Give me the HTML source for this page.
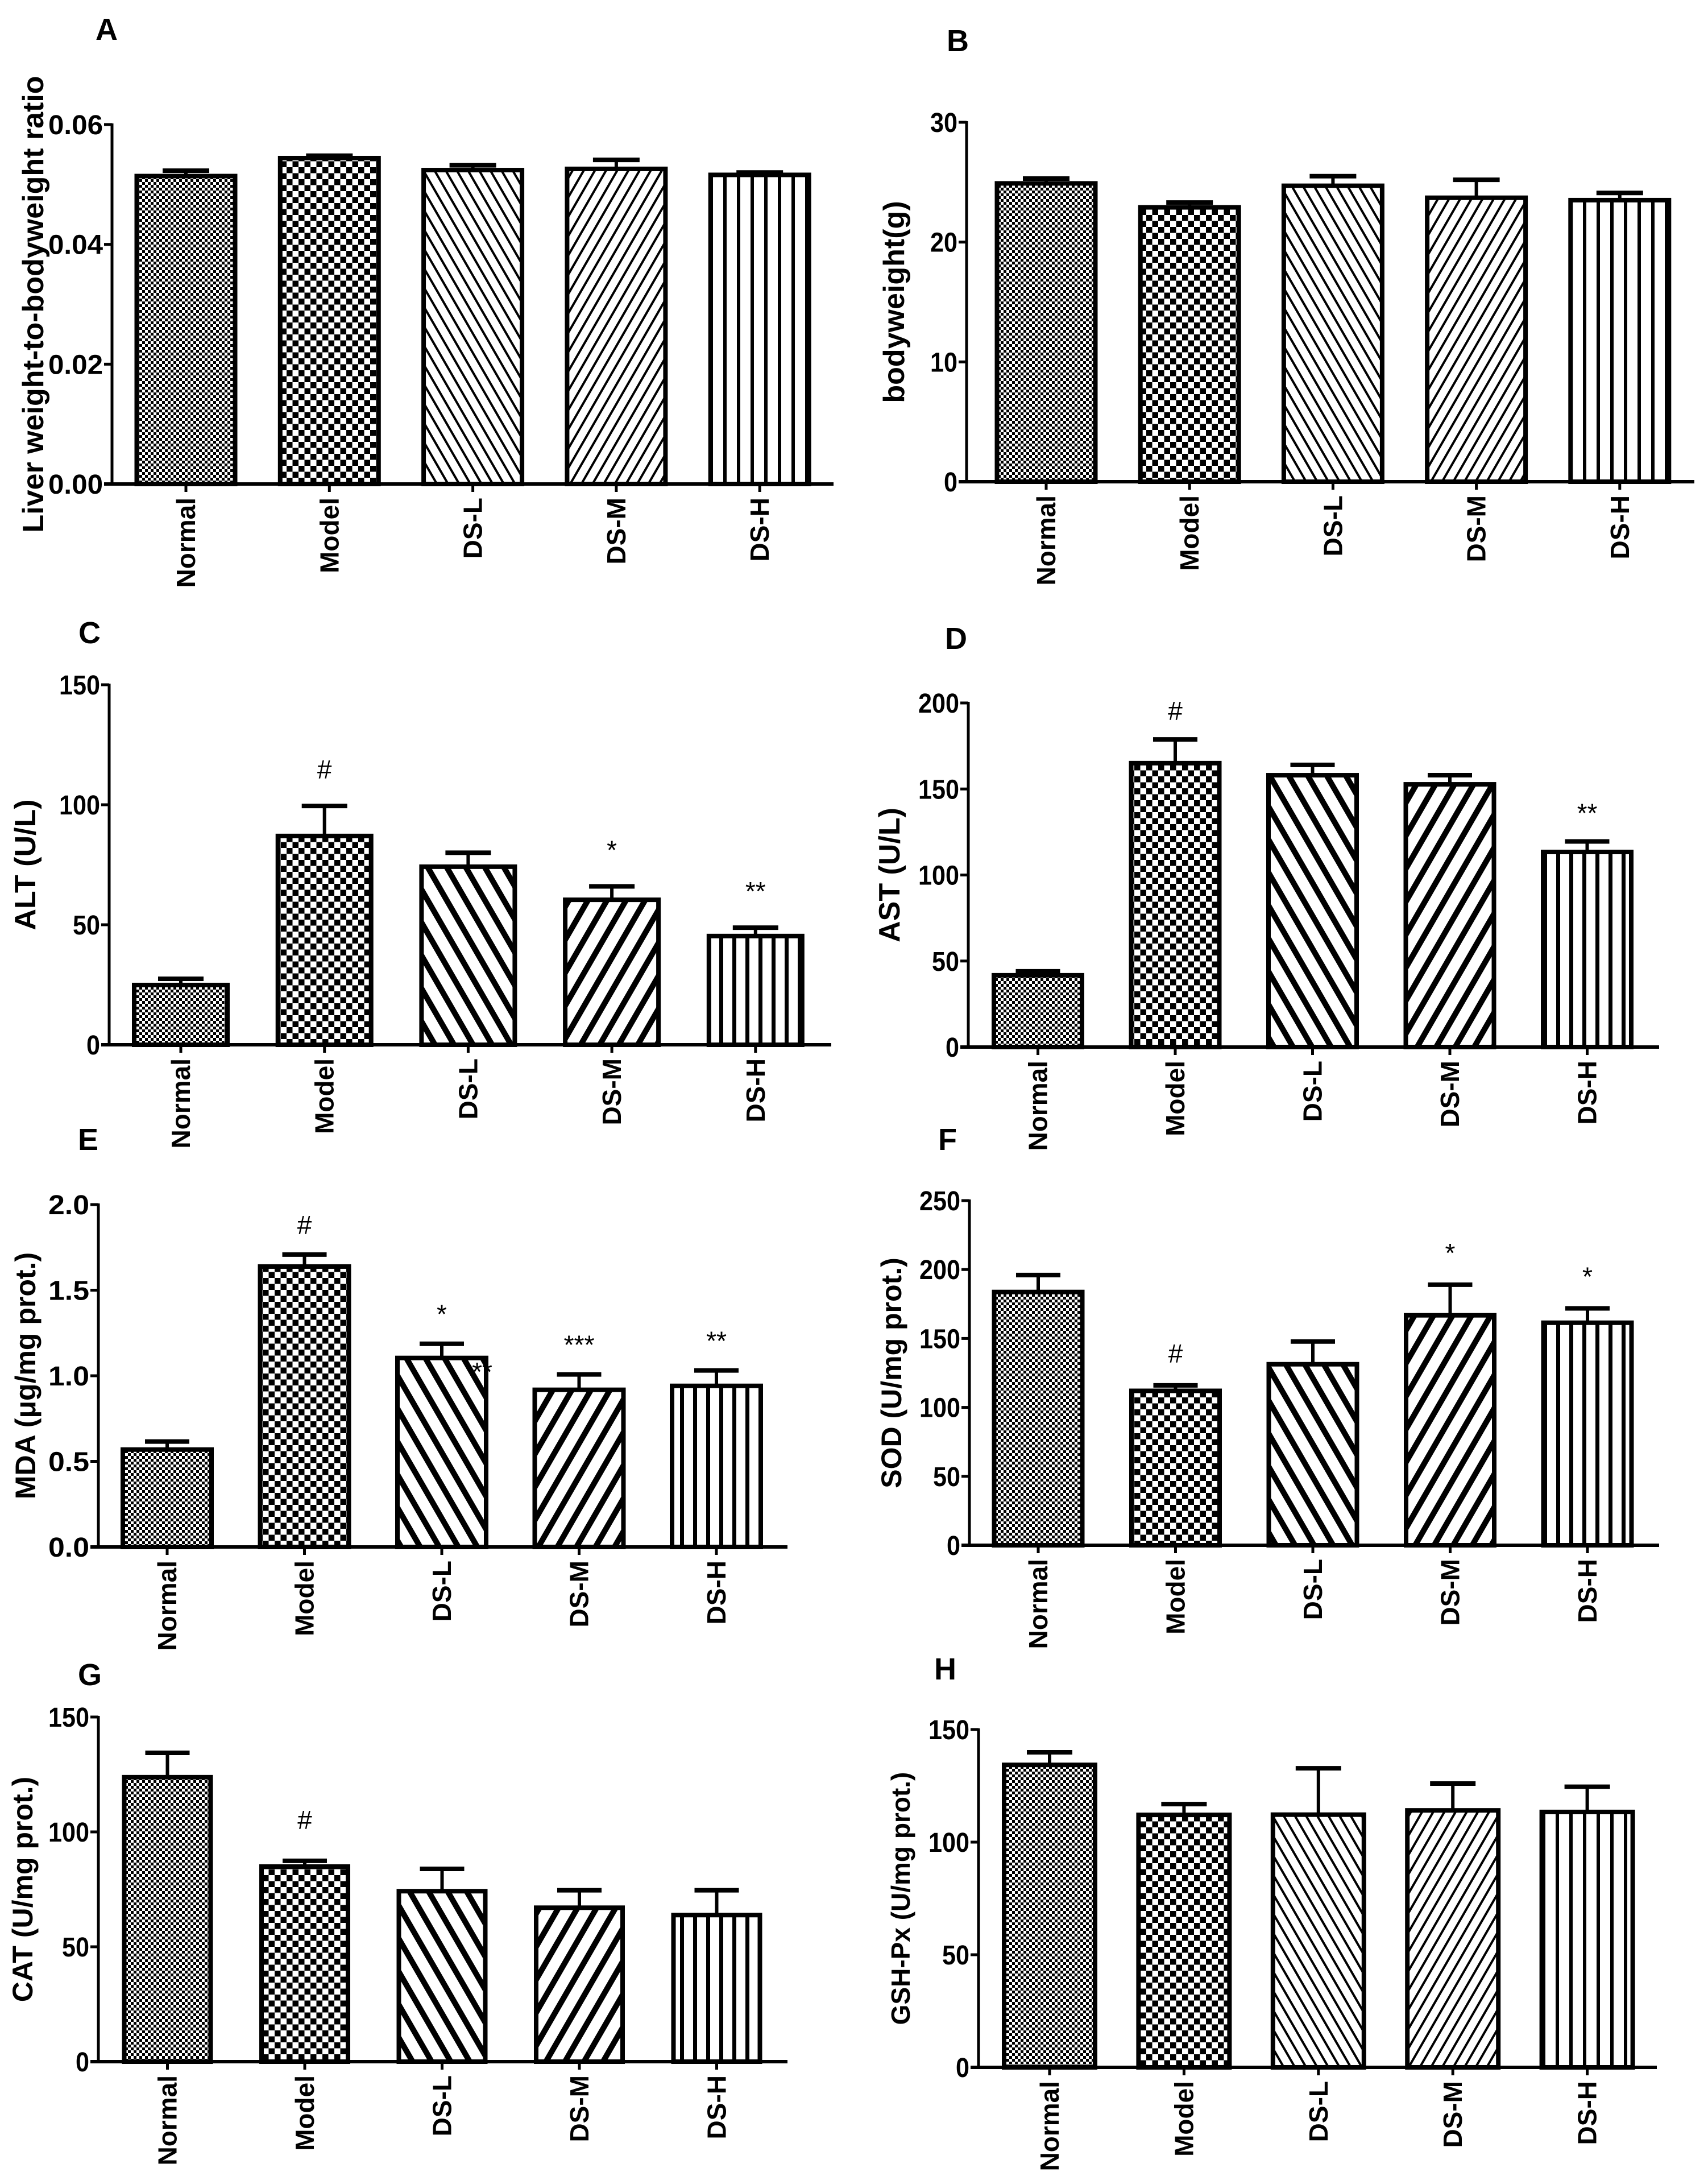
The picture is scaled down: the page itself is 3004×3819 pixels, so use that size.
<!DOCTYPE html>
<html><head><meta charset="utf-8">
<style>
html,body{margin:0;padding:0;background:#fff;}
svg{display:block;}
text{font-family:"Liberation Sans",Arial,sans-serif;}
</style></head>
<body>
<svg id="fig" xmlns="http://www.w3.org/2000/svg" width="3004" height="3819" viewBox="0 0 3004 3819">
<defs>
  <pattern id="pNormal" patternUnits="userSpaceOnUse" width="10" height="10">
    <rect width="10" height="10" fill="#fff"/><rect width="5" height="5" fill="#000"/><rect x="5" y="5" width="5" height="5" fill="#000"/>
  </pattern>
  <pattern id="pModel" patternUnits="userSpaceOnUse" width="21" height="21">
    <rect width="21" height="21" fill="#fff"/><rect width="10.5" height="10.5" fill="#000"/><rect x="10.5" y="10.5" width="10.5" height="10.5" fill="#000"/>
  </pattern>
  <pattern id="pLthin" patternUnits="userSpaceOnUse" width="17" height="40" patternTransform="rotate(-30)">
    <rect width="17" height="40" fill="#fff"/><rect width="4" height="40" fill="#000"/>
  </pattern>
  <pattern id="pMthin" patternUnits="userSpaceOnUse" width="17" height="40" patternTransform="rotate(30)">
    <rect width="17" height="40" fill="#fff"/><rect width="4" height="40" fill="#000"/>
  </pattern>
  <pattern id="pHthin" patternUnits="userSpaceOnUse" width="24" height="40">
    <rect width="24" height="40" fill="#fff"/><rect width="6" height="40" fill="#000"/>
  </pattern>
  <pattern id="pLthick" patternUnits="userSpaceOnUse" width="29" height="40" patternTransform="rotate(-30)">
    <rect width="29" height="40" fill="#fff"/><rect width="10" height="40" fill="#000"/>
  </pattern>
  <pattern id="pMthick" patternUnits="userSpaceOnUse" width="29" height="40" patternTransform="rotate(30)">
    <rect width="29" height="40" fill="#fff"/><rect width="10" height="40" fill="#000"/>
  </pattern>
  <pattern id="pHthick" patternUnits="userSpaceOnUse" width="23" height="40">
    <rect width="23" height="40" fill="#fff"/><rect width="7" height="40" fill="#000"/>
  </pattern>
</defs>
</svg>
<script>
// ---- data ----
const categories = ["Normal","Model","DS-L","DS-M","DS-H"];
const valuesA = [0.0514,0.0544,0.0524,0.0526,0.0516];
const errorsA = [0.0009,0.0004,0.0008,0.0015,0.0004];
const ticksA = [0,0.02,0.04,0.06];
const tickLabelsA = ["0.00","0.02","0.04","0.06"];
const valuesB = [24.9,22.9,24.7,23.7,23.5];
const errorsB = [0.4,0.4,0.8,1.5,0.6];
const ticksB = [0,10,20,30];
const valuesC = [24.9,87,74.2,60.4,45.3];
const errorsC = [2.6,12.5,5.8,5.6,3.5];
const ticksC = [0,50,100,150];
const annotC = ["","#","","*","**"];
const valuesD = [41.7,165,158,152.7,113.4];
const errorsD = [2.3,13.8,6,5.3,6.1];
const ticksD = [0,50,100,150,200];
const annotD = ["","#","","","**"];
const valuesE = [0.569,1.638,1.104,0.918,0.941];
const errorsE = [0.047,0.07,0.083,0.09,0.09];
const ticksE = [0,0.5,1.0,1.5,2.0];
const tickLabelsE = ["0.0","0.5","1.0","1.5","2.0"];
const annotE = ["","#","*","***","**"];
const valuesF = [183.7,112,131.3,166.8,161.4];
const errorsF = [12.3,4,16.5,22.2,10.4];
const ticksF = [0,50,100,150,200,250];
const annotF = ["","#","","*","*"];
const valuesG = [123.8,84.9,74.2,67,63.8];
const errorsG = [10.6,2.5,9.7,7.6,10.8];
const ticksG = [0,50,100,150];
const annotG = ["","#","","",""];
const valuesH = [134.3,112.1,112.2,114.1,113.4];
const errorsH = [5.6,4.8,20.6,11.9,11.2];
const ticksH = [0,50,100,150];

const NS="http://www.w3.org/2000/svg";
const svg=document.getElementById('fig');
function el(tag,attrs,parent){const e=document.createElementNS(NS,tag);for(const k in attrs)e.setAttribute(k,attrs[k]);(parent||svg).appendChild(e);return e;}

const thinPat=["pNormal","pModel","pLthin","pMthin","pHthin"];
const thickPat=["pNormal","pModel","pLthick","pMthick","pHthick"];

function panel(p){
  const g=el('g',{});
  
  
  const y=v=>p.yZero-(v-0)/(p.max)*(p.yZero-p.yTop);
  const xc=i=>p.c0+i*p.step;
  const L=el('text',{x:p.lx,y:p.ly,'font-size':54,'font-weight':'bold'},g);
  L.textContent=p.letter;
  
  
  p.values.forEach((v,i)=>{
    const top=y(v), x=xc(i)-p.w/2;
    const eb=el('g',{},g);
    
    
    const et=y(v+p.errors[i]);
    el('line',{x1:xc(i),x2:xc(i),y1:top,y2:et,stroke:'#000','stroke-width':6},eb);
    el('line',{x1:xc(i)-p.cap/2,x2:xc(i)+p.cap/2,y1:et,y2:et,stroke:'#000','stroke-width':8},eb);
    const r=el('rect',{x:x,y:top,width:p.w,height:p.yZero-top,fill:'url(#'+p.pats[i]+')',stroke:'#000','stroke-width':8},g);
    
    
    if(p.annot&&p.annot[i]){
      const a=el('text',{x:xc(i),y:et-p.annOff,'font-size':46,'text-anchor':'middle'},g);
      a.textContent=p.annot[i];
      
      
    }
    el('line',{x1:xc(i),x2:xc(i),y1:p.yZero,y2:p.yZero+14,stroke:'#000','stroke-width':5},g);
    const t=el('text',{transform:`translate(${xc(i)+16},${p.yZero+24}) rotate(-90)`,'font-size':46,'font-weight':'bold','text-anchor':'end'},g);
    t.textContent=categories[i];
    
    
  });
  const ya=el('line',{x1:p.ax,x2:p.ax,y1:p.yTop-2,y2:p.yZero+3,stroke:'#000','stroke-width':5},g);
  
  
  const xa=el('line',{x1:p.ax-14,x2:p.xEnd,y1:p.yZero,y2:p.yZero,stroke:'#000','stroke-width':6},g);
  
  
  p.ticks.forEach((tv,k)=>{
    el('line',{x1:p.ax-14,x2:p.ax,y1:y(tv),y2:y(tv),stroke:'#000','stroke-width':5},g);
    const lab=p.tickLabels?p.tickLabels[k]:String(tv);
    const t=el('text',{x:p.ax-16,y:y(tv)+17,'font-size':48,'font-weight':'bold','text-anchor':'end',textLength:lab.length*24,lengthAdjust:'spacingAndGlyphs'},g);
    t.textContent=lab;
    
    
  });
  const tt=el('text',{transform:`translate(${p.tx},${(p.yTop+p.yZero)/2}) rotate(-90)`,'font-size':p.tfs,'font-weight':'bold','text-anchor':'middle'},g);
  tt.textContent=p.title;
  
  
  return g;
}

panel({letter:'A',lx:168,ly:70,ax:197,yTop:219,yZero:851,xEnd:1466,max:0.06,c0:327,step:252.3,w:173,cap:82,values:valuesA,errors:errorsA,ticks:ticksA,tickLabels:tickLabelsA,pats:thinPat,tx:76,tfs:52,title:'Liver weight-to-bodyweight ratio'});
panel({letter:'B',lx:1665,ly:90,ax:1700,yTop:215,yZero:847,xEnd:2980,max:30,c0:1840,step:252.2,w:173,cap:82,values:valuesB,errors:errorsB,ticks:ticksB,pats:thinPat,tx:1590,tfs:52,title:'bodyweight(g)'});
panel({letter:'C',lx:138,ly:1131,ax:192,yTop:1204,yZero:1837,xEnd:1462,max:150,c0:318,step:252.7,w:164,cap:80,values:valuesC,errors:errorsC,ticks:ticksC,pats:thickPat,annot:annotC,annOff:48,tx:62,tfs:52,title:'ALT (U/L)'});
panel({letter:'D',lx:1662,ly:1141,ax:1703,yTop:1236,yZero:1841,xEnd:2918,max:200,c0:1825.5,step:241.5,w:155,cap:78,values:valuesD,errors:errorsD,ticks:ticksD,pats:thickPat,annot:annotD,annOff:34,tx:1582,tfs:52,title:'AST (U/L)'});
const gE=panel({letter:'E',lx:137,ly:2022,ax:173,yTop:2118,yZero:2720,xEnd:1385,max:2.0,c0:294,step:241.5,w:156,cap:78,values:valuesE,errors:errorsE,ticks:ticksE,tickLabels:tickLabelsE,pats:thickPat,annot:annotE,annOff:36,tx:62,tfs:50,title:'MDA (\u03bcg/mg prot.)'});
const stray=el('text',{x:848,y:2428,'font-size':46,'text-anchor':'middle'},gE);
stray.textContent='**';


panel({letter:'F',lx:1650,ly:2022,ax:1705,yTop:2111,yZero:2717,xEnd:2918,max:250,c0:1826,step:241.5,w:155,cap:78,values:valuesF,errors:errorsF,ticks:ticksF,pats:thickPat,annot:annotF,annOff:40,tx:1585,tfs:50,title:'SOD (U/mg prot.)'});
panel({letter:'G',lx:137,ly:2963,ax:173,yTop:3019,yZero:3625,xEnd:1385,max:150,c0:294.5,step:241.5,w:152,cap:78,values:valuesG,errors:errorsG,ticks:ticksG,pats:thickPat,annot:annotG,annOff:56,tx:57,tfs:50,title:'CAT (U/mg prot.)'});
panel({letter:'H',lx:1643,ly:2953,ax:1721,yTop:3041,yZero:3635,xEnd:2914,max:150,c0:1846,step:236.4,w:160,cap:80,values:valuesH,errors:errorsH,ticks:ticksH,pats:thinPat,tx:1600,tfs:46,title:'GSH-Px (U/mg prot.)'});
</script>
</body></html>
